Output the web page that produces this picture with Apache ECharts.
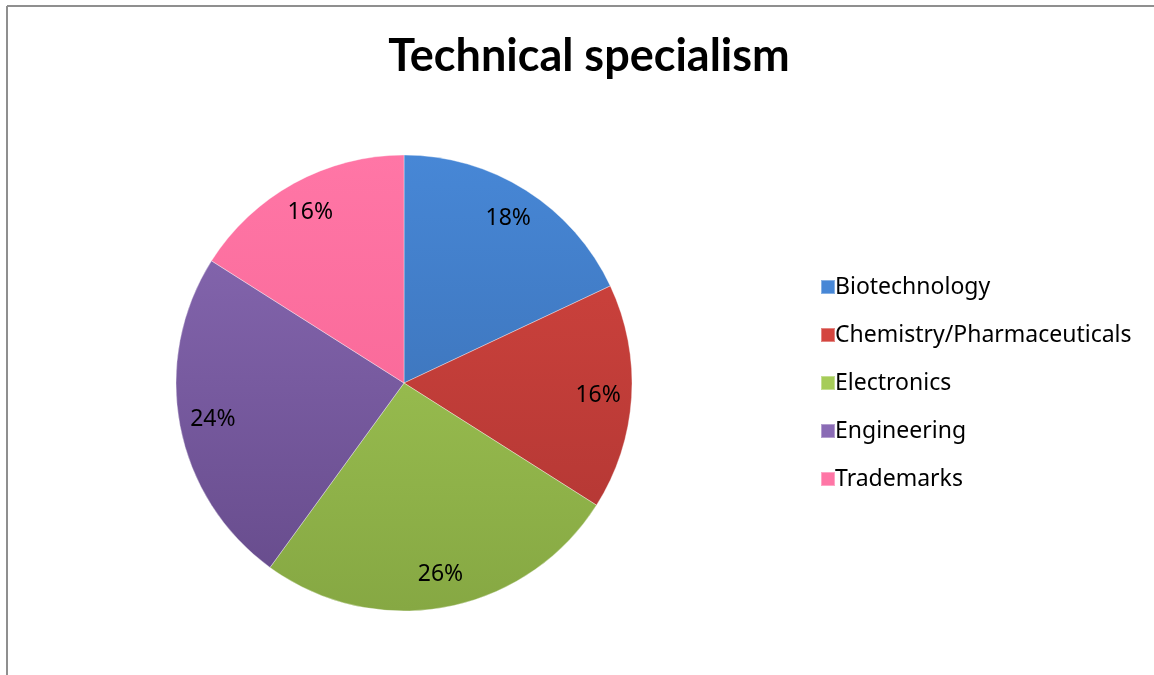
<!DOCTYPE html>
<html>
<head>
<meta charset="utf-8">
<title>Technical specialism</title>
<script src="https://cdn.jsdelivr.net/npm/echarts@6/dist/echarts.min.js"></script>
<style>
  html, body { margin: 0; padding: 0; background: #fff; }
  #chart { width: 1154px; height: 675px; }
</style>
</head>
<body>
<div id="chart"></div>
<script>
// chart data
const categories = ['Biotechnology', 'Chemistry/Pharmaceuticals', 'Electronics', 'Engineering', 'Trademarks'];
const shares = [18, 16, 26, 24, 16];
// light (top) / dark (bottom) shade per slice
const lightColors = ['#4787D6', '#D4453F', '#A6CC58', '#8A6BB5', '#FF76A6'];
const darkColors = ['#3769AA', '#AE3532', '#86A843', '#654A8A', '#F5608F'];

const chart = echarts.init(document.getElementById('chart'));

const cx = 404, cy = 383, r = 228;

// vertical gradient across the whole pie, so slices shade like the original
function shade(i) {
  return new echarts.graphic.LinearGradient(0, cy - r, 0, cy + r, [
    { offset: 0, color: lightColors[i] },
    { offset: 1, color: darkColors[i] }
  ], true);
}

const pieData = categories.map((name, i) => ({
  name,
  value: shares[i],
  itemStyle: { color: shade(i) }
}));

const option = {
  backgroundColor: '#ffffff',
  animation: false,
  title: {
    text: 'Technical specialism',
    left: 584,
    top: 29,
    textAlign: 'center',
    textStyle: {
      fontFamily: 'Lato',
      fontSize: 45,
      fontWeight: 'bold',
      color: '#000'
    }
  },
  legend: {
    orient: 'vertical',
    left: 815,
    top: 270,
    itemWidth: 14,
    itemHeight: 14,
    itemGap: 24,
    icon: 'rect',
    data: categories,
    textStyle: {
      fontFamily: 'Noto Sans',
      fontSize: 23,
      lineHeight: 24,
      color: '#000',
      padding: [0, 0, 0, -5]
    }
  },
  graphic: [
    { type: 'line', shape: { x1: 7, y1: 6, x2: 1154, y2: 6 }, style: { stroke: '#8f8f8f', lineWidth: 2 } },
    { type: 'line', shape: { x1: 7, y1: 6, x2: 7, y2: 675 }, style: { stroke: '#8f8f8f', lineWidth: 2 } }
  ],
  series: [
    {
      type: 'pie',
      center: [cx, cy],
      radius: r,
      startAngle: 90,
      clockwise: true,
      data: pieData,
      label: { show: false },
      labelLine: { show: false },
      itemStyle: {
        borderColor: 'rgba(255,255,255,0.35)',
        borderWidth: 1
      },
      emphasis: { disabled: true }
    },
    {
      // transparent ring that carries the percentage labels near the rim
      type: 'pie',
      center: [cx, cy],
      radius: [r * 0.68, r],
      startAngle: 90,
      clockwise: true,
      silent: true,
      data: categories.map((name, i) => ({ name, value: shares[i] })),
      itemStyle: { color: 'rgba(0,0,0,0)' },
      label: {
        show: true,
        position: 'inside',
        formatter: '{c}%',
        fontFamily: 'Noto Sans',
        fontSize: 23,
        color: '#000'
      },
      labelLine: { show: false },
      emphasis: { disabled: true }
    }
  ]
};

chart.setOption(option);
</script>
</body>
</html>
